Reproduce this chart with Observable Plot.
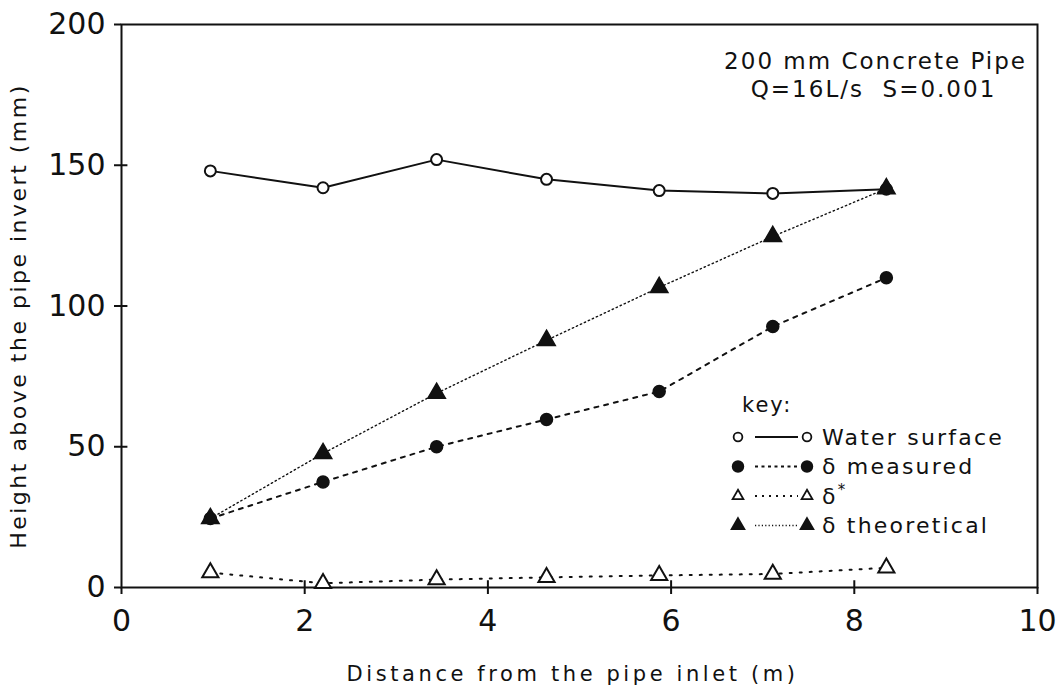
<!DOCTYPE html>
<html><head><meta charset="utf-8">
<script src="https://cdn.jsdelivr.net/npm/d3@7"></script>
<script src="https://cdn.jsdelivr.net/npm/@observablehq/plot@0.6"></script>
<style>
body{margin:0;background:#fff;font-family:"DejaVu Sans",sans-serif;}
#wrap{position:relative;width:1060px;height:689px;overflow:hidden;}
#legend{position:absolute;left:0;top:0;}
.ls2 text{letter-spacing:2px;}
.lsx text{letter-spacing:3.6px;}
.lsy text{letter-spacing:2.5px;}
</style></head><body><div id="wrap"></div>
<script>
// ---- data ----
const distance = [0.97, 2.2, 3.44, 4.64, 5.87, 7.11, 8.35];
const waterSurface = [148, 142, 152, 145, 141, 140, 141.5];
const deltaMeasured = [24.5, 37.5, 50, 59.7, 69.6, 92.7, 110];
const deltaStar = [5.3, 1.5, 2.8, 3.6, 4.3, 4.8, 7];
const deltaTheoretical = [24.5, 47.6, 69, 87.8, 106.6, 124.7, 141.7];
const xTicks = [0, 2, 4, 6, 8, 10];
const yTicks = [0, 50, 100, 150, 200];
const titleLines = ["200 mm Concrete Pipe", "Q=16L/s  S=0.001"];
const xLabel = "Distance from the pipe inlet (m)";
const yLabel = "Height above the pipe invert (mm)";
const legendItems = ["Water surface", "δ measured", "δ*", "δ theoretical"];

const rows = (vals) => distance.map((d, i) => ({x: d, y: vals[i]}));
const ws = rows(waterSurface), dm = rows(deltaMeasured), ds = rows(deltaStar), dt = rows(deltaTheoretical);
const ink = "#111";
const FONT = "'DejaVu Sans', sans-serif";

const chart = Plot.plot({
  width: 1060, height: 689,
  marginLeft: 121, marginRight: 23, marginTop: 24, marginBottom: 102,
  x: {domain: [0, 10]},
  y: {domain: [0, 200]},
  style: {fontFamily: FONT, color: ink, background: "#fff"},
  marks: [
    Plot.frame({stroke: ink, strokeWidth: 2}),
    Plot.axisX(xTicks, {tickSize: 7, tickPadding: 15, fontSize: 30, label: null, strokeWidth: 2}),
    Plot.axisY(yTicks, {tickSize: 7, tickPadding: 9, fontSize: 30, label: null, strokeWidth: 2}),
    Plot.ruleX(xTicks.slice(1, -1), {y1: 0, y2: 2.4, stroke: ink, strokeWidth: 2}),
    Plot.ruleY(yTicks.slice(1, -1), {x1: 0, x2: 0.07, stroke: ink, strokeWidth: 2}),
    // lines
    Plot.line(ws, {x: "x", y: "y", stroke: ink, strokeWidth: 2}),
    Plot.line(dm, {x: "x", y: "y", stroke: ink, strokeWidth: 2, strokeDasharray: "4,6"}),
    Plot.line(ds, {x: "x", y: "y", stroke: ink, strokeWidth: 2, strokeDasharray: "2,8"}),
    Plot.line(dt, {x: "x", y: "y", stroke: ink, strokeWidth: 1.4, strokeDasharray: "1.4,3"}),
    // markers
    Plot.dot(ws, {x: "x", y: "y", r: 5.5, fill: "#fff", stroke: ink, strokeWidth: 2}),
    Plot.dot(dm, {x: "x", y: "y", r: 6, fill: ink, stroke: ink}),
    Plot.dot(ds, {x: "x", y: "y", r: 6, symbol: "triangle", fill: "#fff", stroke: ink, strokeWidth: 2}),
    Plot.dot(dt, {x: "x", y: "y", r: 6.5, symbol: "triangle", fill: ink, stroke: ink}),
    // annotation
    Plot.text([titleLines[0]], {frameAnchor: "top-right", dx: -162, dy: 28, textAnchor: "middle", fontSize: 23, fill: ink, className: "ls2"}),
    Plot.text([titleLines[1]], {frameAnchor: "top-right", dx: -164, dy: 56, textAnchor: "middle", fontSize: 23, fill: ink, className: "ls2"}),
    // axis labels
    Plot.text([xLabel], {frameAnchor: "bottom", dx: -7, dy: 93, fontSize: 21, fill: ink, textAnchor: "middle", className: "lsx"}),
    Plot.text([yLabel], {frameAnchor: "left", rotate: -90, dx: -103, dy: 10, textAnchor: "middle", fontSize: 22, fill: ink, className: "lsy"})
  ]
});
document.getElementById("wrap").appendChild(chart);

// ---- legend (key) overlay ----
const svg = d3.select("#wrap").append("svg").attr("id", "legend")
  .attr("width", 1060).attr("height", 689)
  .style("font-family", FONT).style("pointer-events", "none");
svg.append("text").attr("x", 742).attr("y", 412).attr("font-size", 21).style("letter-spacing", "2px").attr("fill", ink).text("key:");
const styles = [
  {sym: d3.symbolCircle, fill: "#fff", line: {w: 2, dash: null}, size: 60},
  {sym: d3.symbolCircle, fill: ink, line: {w: 2, dash: "3,3.5"}, size: 90},
  {sym: d3.symbolTriangle, fill: "#fff", line: {w: 2, dash: "2,5"}, size: 50},
  {sym: d3.symbolTriangle, fill: ink, line: {w: 1.5, dash: "1.2,2.2"}, size: 70}
];
legendItems.forEach((label, i) => {
  const y = 437 + i * 29.5;
  const st = styles[i];
  const g = svg.append("g");
  g.append("line").attr("x1", 755).attr("x2", 798).attr("y1", y).attr("y2", y)
    .attr("stroke", ink).attr("stroke-width", st.line.w).attr("stroke-dasharray", st.line.dash);
  [738, 807].forEach(cx => {
    g.append("path").attr("d", d3.symbol(st.sym, st.size)())
      .attr("transform", `translate(${cx},${y})`)
      .attr("fill", st.fill).attr("stroke", ink).attr("stroke-width", 1.8);
  });
  const t = g.append("text").attr("x", 822).attr("y", y).attr("dy", "0.36em")
    .attr("font-size", 22).style("letter-spacing", "2.2px").attr("fill", ink);
  if (label === "δ*") {
    t.append("tspan").text("δ");
    t.append("tspan").attr("baseline-shift", "super").attr("font-size", 15).text("*");
  } else {
    t.text(label);
  }
});
</script>
</body></html>
